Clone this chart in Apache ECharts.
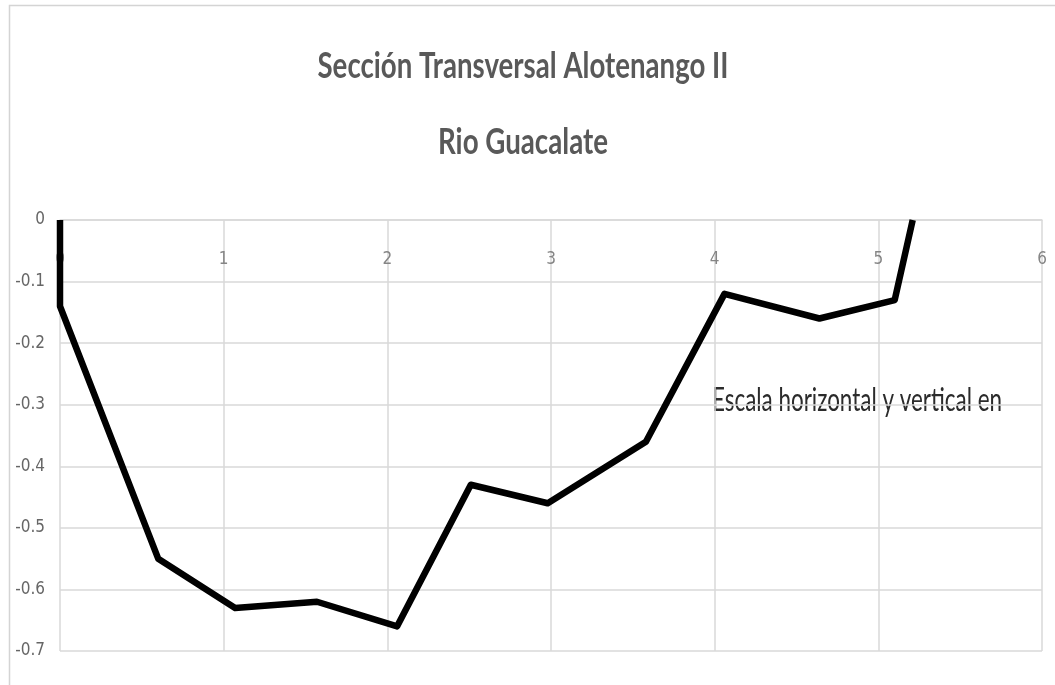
<!DOCTYPE html>
<html>
<head>
<meta charset="utf-8">
<title>Sección Transversal Alotenango II - Rio Guacalate</title>
<script src="https://cdn.jsdelivr.net/npm/echarts@6/dist/echarts.min.js"></script>
<style>
  html, body { margin: 0; padding: 0; background: #fff; }
  #chart { width: 1055px; height: 685px; }
</style>
</head>
<body>
<div id="chart"></div>
<script>
// Cross-section survey: horizontal distance and depth (metres)
const distance = [0, 0, 0.60, 1.07, 1.57, 2.06, 2.51, 2.98, 3.58, 4.06, 4.64, 5.10, 5.21];
const depth    = [0, -0.14, -0.55, -0.63, -0.62, -0.66, -0.43, -0.46, -0.36, -0.12, -0.16, -0.13, 0];

// Axis ticks
const xTicks = [0, 1, 2, 3, 4, 5, 6];
const yTicks = [0, -0.1, -0.2, -0.3, -0.4, -0.5, -0.6, -0.7];

const titleLines = ['Sección Transversal Alotenango II', 'Rio Guacalate'];
const noteText = 'Escala horizontal y vertical en';

const LABEL_FONT = '"Liberation Sans Narrow", "DejaVu Sans Condensed", "Liberation Sans", sans-serif';
const TEXT_FONT = 'Lato, "Open Sans", "Liberation Sans", sans-serif';

// Condensed text: measure natural width and squeeze to the wanted width
const measureCtx = document.createElement('canvas').getContext('2d');
function squeeze(text, font, wantedWidth) {
  measureCtx.font = font;
  const w = measureCtx.measureText(text).width;
  return w > 0 ? wantedWidth / w : 1;
}

const chart = echarts.init(document.getElementById('chart'), null, { renderer: 'canvas' });

const t1Font = 'bold 36px ' + TEXT_FONT;
const t2Font = 'bold 37px ' + TEXT_FONT;
const noteFont = '33px ' + TEXT_FONT;

const points = distance.map((d, i) => [d, depth[i]]);

chart.setOption({
  backgroundColor: '#ffffff',
  animation: false,
  grid: { left: 60, right: 13, top: 220, bottom: 34, containLabel: false, outerBoundsMode: 'none' },
  xAxis: {
    type: 'value',
    min: xTicks[0],
    max: xTicks[xTicks.length - 1],
    interval: xTicks[1] - xTicks[0],
    // the horizontal axis crosses at depth 0, which is the top edge
    position: 'top',
    axisLine: { show: true, onZero: false, lineStyle: { color: '#d9d9d9', width: 1.5 } },
    axisTick: { show: false },
    axisLabel: {
      show: true,
      inside: true,
      margin: 31,
      color: '#858585',
      fontSize: 17,
      fontFamily: LABEL_FONT
    },
    splitLine: { show: true, lineStyle: { color: '#d9d9d9', width: 1.5 } }
  },
  yAxis: {
    type: 'value',
    min: yTicks[yTicks.length - 1],
    max: yTicks[0],
    interval: 0.1,
    axisLine: { show: false },
    axisTick: { show: false },
    axisLabel: {
      margin: 15,
      color: '#666666',
      fontSize: 17,
      fontFamily: LABEL_FONT,
      formatter: v => String(Math.round(v * 10) / 10)
    },
    splitLine: { show: true, lineStyle: { color: '#d9d9d9', width: 1.5 } }
  },
  series: [{
    type: 'line',
    data: points,
    showSymbol: false,
    clip: true,
    lineStyle: { color: '#000000', width: 6.5, join: 'round' }
  }],
  graphic: [
    {
      type: 'rect',
      silent: true,
      shape: { x: 9.5, y: 5.5, width: 1200, height: 800 },
      style: { fill: 'none', stroke: '#d4d4d4', lineWidth: 1.5 }
    },
    {
      type: 'text',
      x: 523, y: 66,
      scaleX: squeeze(titleLines[0], t1Font, 411),
      style: { text: titleLines[0], font: t1Font, fill: '#595959', align: 'center', verticalAlign: 'middle' }
    },
    {
      type: 'text',
      x: 523, y: 142,
      scaleX: squeeze(titleLines[1], t2Font, 170),
      style: { text: titleLines[1], font: t2Font, fill: '#595959', align: 'center', verticalAlign: 'middle' }
    },
    {
      type: 'text',
      x: 712, y: 400,
      scaleX: squeeze(noteText, noteFont, 290),
      style: { text: noteText, font: noteFont, fill: '#2b2b2b', align: 'left', verticalAlign: 'middle' }
    }
  ]
});
</script>
</body>
</html>
